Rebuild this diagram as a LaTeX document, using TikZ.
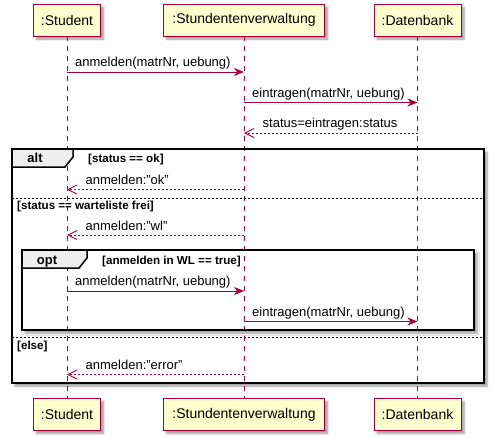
\documentclass[tikz,border=0pt]{standalone}
\usepackage{fontspec}
\setmainfont{Liberation Sans}
\usetikzlibrary{arrows.meta,shadows.blur}
\definecolor{pu}{HTML}{A80036}
\definecolor{pfill}{HTML}{FEFECE}
\definecolor{tabfill}{HTML}{EEEEEE}
\begin{document}
\begin{tikzpicture}[x=1pt,y=-1pt,
  shd/.style={blur shadow={shadow xshift=3pt, shadow yshift=-3pt, shadow blur steps=6, shadow opacity=40}},
  part/.style={draw=pu, line width=1pt, fill=pfill, minimum height=32pt, inner sep=0pt, outer sep=0pt, font=\fontsize{14}{16}\selectfont, shd},
  life/.style={pu, line width=0.9pt, dash pattern=on 5pt off 5pt},
  msg/.style={pu, line width=0.9pt, -{Stealth[length=10pt,width=8pt,inset=3pt]}},
  ret/.style={pu, line width=0.9pt, dash pattern=on 2pt off 2pt, -{Straight Barb[length=9pt,width=9pt]}},
  lbl/.style={anchor=base west, inner sep=0pt, font=\fontsize{13}{15}\selectfont},
  guard/.style={anchor=base west, inner sep=0pt, font=\fontsize{11.6}{13}\selectfont\bfseries},
  frame/.style={inner sep=0pt, outer sep=0pt, fill=white, shd},
  fborder/.style={black, line width=1.5pt},
  sep/.style={black, line width=0.8pt, dash pattern=on 2pt off 2pt},
  tab/.style={fill=tabfill, draw=black, line width=1.5pt, line join=miter},
  kw/.style={inner sep=0pt, anchor=base, font=\fontsize{13}{15}\selectfont\bfseries}
]
\useasboundingbox (0,0) rectangle (494,437);

% frames (fill + shadow)
\node[frame, minimum width=472pt, minimum height=234pt] (alt) at (248,266) {};
\node[frame, minimum width=452pt, minimum height=80pt] (opt) at (248,290) {};

% participants
\node[part, minimum width=67pt] (stTop) at (67,20) {:Student};
\node[part, minimum width=161pt] (svTop) at (244,20) {:Stundentenverwaltung};
\node[part, minimum width=87pt] (dbTop) at (417.5,20) {:Datenbank};
\node[part, minimum width=67pt] (stBot) at (67,414.5) {:Student};
\node[part, minimum width=161pt] (svBot) at (244,414.5) {:Stundentenverwaltung};
\node[part, minimum width=87pt] (dbBot) at (417.5,414.5) {:Datenbank};

% lifelines
\draw[life] (stTop.south) -- (stBot.north);
\draw[life] (svTop.south) -- (svBot.north);
\draw[life] (dbTop.south) -- (dbBot.north);

% frame borders
\draw[fborder] (alt.north west) rectangle (alt.south east);
\draw[fborder] (opt.north west) rectangle (opt.south east);
\draw[tab] (alt.north west) -- (73,149) -- (73,157) -- (65,167) -- (12,167) -- cycle;
\draw[tab] (opt.north west) -- (87,250) -- (87,258) -- (79,268) -- (22,268) -- cycle;
\node[kw] (altlbl) at (35,162.5) {alt};
\node[kw] (optlbl) at (47,264.5) {opt};
\node[guard] (g1) at (88,162) {[status == ok]};
\node[guard] (g2) at (17,209.5) {[status == warteliste frei]};
\node[guard] (g3) at (102,264) {[anmelden in WL == true]};
\node[guard] (g4) at (17,349) {[else]};
\draw[sep] (alt.west |- 0,198.5) -- (alt.east |- 0,198.5);
\draw[sep] (alt.west |- 0,337.5) -- (alt.east |- 0,337.5);

% messages
\draw[msg] (stTop |- 0,72) -- (svTop |- 0,72);
\node[lbl] (t1) at (75,66.5) {anmelden(matrNr, uebung)};
\draw[msg] (svTop |- 0,102.5) -- (dbTop |- 0,102.5);
\node[lbl] (t2) at (252,97) {eintragen(matrNr, uebung)};
\draw[ret] (dbTop |- 0,133) -- (svTop |- 0,133);
\node[lbl] (t3) at (262.5,127.5) {status=eintragen:status};
\draw[ret] (svTop |- 0,189.5) -- (stTop |- 0,189.5);
\node[lbl] (t4) at (85.5,184.5) {anmelden:"ok"};
\draw[ret] (svTop |- 0,235) -- (stTop |- 0,235);
\node[lbl] (t5) at (85.5,230) {anmelden:"wl"};
\draw[msg] (stTop |- 0,291) -- (svTop |- 0,291);
\node[lbl] (t6) at (75,285.5) {anmelden(matrNr, uebung)};
\draw[msg] (svTop |- 0,321.5) -- (dbTop |- 0,321.5);
\node[lbl] (t7) at (252,316) {eintragen(matrNr, uebung)};
\draw[ret] (svTop |- 0,374.5) -- (stTop |- 0,374.5);
\node[lbl] (t8) at (85.5,369.5) {anmelden:"error"};
\end{tikzpicture}
\end{document}
